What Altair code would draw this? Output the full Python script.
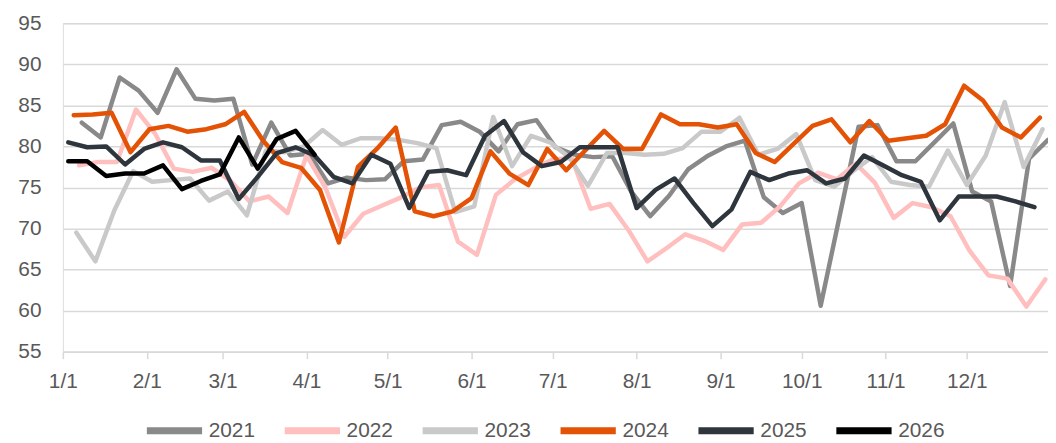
import altair as alt
import pandas as pd

years = ["2021", "2022", "2023", "2024", "2025", "2026"]
colors = ["#898989", "#FFBFBF", "#C9C9C9", "#E35205", "#2E353D", "#000000"]
start_days = [7, 6, 5, 4, 2, 2]

v2021 = [82.9, 81.1, 88.4, 86.8, 84.1, 89.4, 85.8, 85.6, 85.8, 77.8,
         82.9, 78.9, 79.1, 75.5, 76.2, 75.9, 76.0, 78.2, 78.4, 82.6,
         83.0, 81.8, 79.4, 82.7, 83.2, 79.9, 79.0, 78.7, 78.8, 74.5,
         71.5, 74.0, 77.2, 78.8, 80.0, 80.7, 73.8, 71.9, 73.1, 60.6,
         71.5, 82.4, 82.6, 78.2, 78.2, 80.5, 82.8, 74.5, 73.3, 63.0,
         78.5, 80.8]
v2022 = [77.7, 78.1, 78.1, 84.5, 81.6, 77.3, 76.9, 77.4, 75.8, 73.3,
         73.9, 71.9, 78.9, 75.0, 69.0, 71.8, 72.8, 73.8, 75.0, 75.3,
         68.4, 66.8, 74.1, 76.0, 77.3, 78.4, 78.6, 72.4, 73.0, 69.8,
         66.0, 67.6, 69.3, 68.5, 67.4, 70.5, 70.7, 72.7, 75.5, 76.8,
         76.0, 77.9, 75.6, 71.3, 73.1, 72.6, 71.5, 67.3, 64.3, 63.9,
         60.5, 63.8]
v2023 = [69.5, 66.0, 72.2, 77.0, 75.7, 75.9, 76.1, 73.4, 74.5, 71.6,
         79.5, 79.3, 80.0, 82.0, 80.2, 81.0, 81.0, 80.8, 80.4, 79.8,
         72.0, 72.7, 83.6, 77.6, 81.3, 80.5, 78.7, 75.2, 79.2, 79.2,
         79.0, 79.1, 79.8, 81.8, 81.8, 83.5, 79.0, 79.7, 81.5, 75.9,
         75.1, 77.0, 78.7, 75.7, 75.3, 75.1, 79.5, 75.3, 78.9, 85.4,
         77.5, 82.1]
v2024 = [83.8, 83.9, 84.1, 79.3, 82.1, 82.5, 81.8, 82.1, 82.7, 84.2,
         80.7, 78.1, 77.4, 74.7, 68.3, 77.5, 79.7, 82.3, 72.1, 71.5,
         72.1, 73.7, 79.4, 76.7, 75.3, 79.7, 77.1, 79.5, 81.9, 79.7,
         79.7, 83.9, 82.7, 82.7, 82.3, 82.7, 79.2, 78.1, 80.3, 82.5,
         83.3, 80.5, 83.1, 80.7, 81.0, 81.3, 82.7, 87.4, 85.6, 82.3,
         81.1, 83.5]
v2025 = [80.5, 79.9, 80.0, 77.8, 79.7, 80.5, 79.9, 78.3, 78.3, 73.6,
         76.3, 79.2, 79.9, 78.9, 76.3, 75.5, 79.0, 77.9, 72.5, 76.9,
         77.1, 76.5, 81.3, 83.1, 79.3, 77.6, 78.1, 79.9, 79.9, 79.9,
         72.5, 74.7, 76.1, 73.1, 70.3, 72.3, 76.9, 75.9, 76.7, 77.1,
         75.5, 76.1, 78.9, 77.7, 76.5, 75.7, 71.0, 73.9, 73.9, 73.9,
         73.3, 72.6]
v2026 = [78.2, 78.2, 76.4, 76.7, 76.7, 77.7, 74.8, 75.8, 76.6, 81.1,
         77.3, 80.9, 81.9, 79.0]

month_days = [0, 31, 59, 90, 120, 151, 181, 212, 243, 273, 304, 334]
month_labels = ["1/1", "2/1", "3/1", "4/1", "5/1", "6/1",
                "7/1", "8/1", "9/1", "10/1", "11/1", "12/1"]
y_ticks = [55, 60, 65, 70, 75, 80, 85, 90, 95]

series = [v2021, v2022, v2023, v2024, v2025, v2026]
rows = []
for yr, sd, vals in zip(years, start_days, series):
    for i, v in enumerate(vals):
        rows.append({"year": yr, "day": sd + 7 * i, "value": v})
df = pd.DataFrame(rows)

label_expr = ("[" + ",".join("'%s'" % m for m in month_labels) + "][indexof(["
              + ",".join(str(d) for d in month_days) + "], datum.value)]")

FONT = "Liberation Sans"
TXT = "#595959"
GRID = "#D9D9D9"

chart = alt.Chart(df).mark_line(
    strokeWidth=4.5, strokeJoin="round", strokeCap="round"
).encode(
    x=alt.X("day:Q",
            scale=alt.Scale(domain=[0, 364], nice=False, zero=False),
            axis=alt.Axis(values=month_days, labelExpr=label_expr, grid=False,
                          domain=True, domainColor=GRID, domainWidth=1.5,
                          ticks=True, tickColor=GRID, tickWidth=1.5, tickSize=7,
                          labelFontSize=21, labelColor=TXT, labelFont=FONT,
                          labelPadding=12, labelFlush=False, labelOverlap=False,
                          title=None)),
    y=alt.Y("value:Q",
            scale=alt.Scale(domain=[55, 95], nice=False, zero=False),
            axis=alt.Axis(values=y_ticks, grid=True, gridColor=GRID, gridWidth=1.5,
                          domain=False, ticks=False, labelFontSize=21,
                          labelColor=TXT, labelFont=FONT, labelPadding=22,
                          title=None)),
    color=alt.Color("year:N",
                    scale=alt.Scale(domain=years, range=colors),
                    legend=alt.Legend(title=None, orient="none", direction="horizontal",
                                      columns=6, legendX=81, legendY=379,
                                      symbolType="stroke", symbolSize=3100,
                                      symbolStrokeWidth=7, labelFontSize=21,
                                      labelColor=TXT, labelFont=FONT, labelOffset=3,
                                      columnPadding=15, padding=0)),
).properties(
    width=993,
    height=331,
    autosize=alt.AutoSizeParams(type="none"),
    padding={"left": 55.3, "top": 13.7, "right": 0, "bottom": 90},
).configure_view(stroke=None).configure(font=FONT)

chart.save("out.html", embed_options={"renderer": "svg", "actions": False})
